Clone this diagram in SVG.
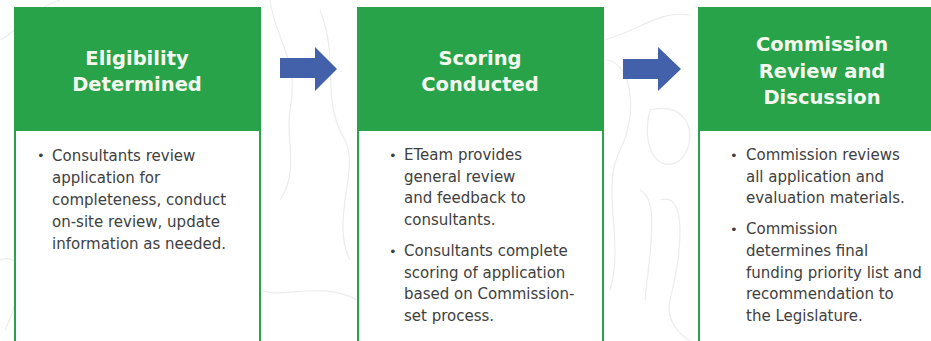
<svg xmlns="http://www.w3.org/2000/svg" width="931" height="341" viewBox="0 0 931 341">
<style>
.hdr{fill:#29a34a}
.body{fill:#ffffff;stroke:#29a34a;stroke-width:2}
.ttl{font-family:"DejaVu Sans",sans-serif;font-weight:bold;font-size:19.5px;fill:#f4f8ee;text-anchor:middle}
.txt{font-family:"DejaVu Sans",sans-serif;font-size:15px;fill:#404040}
.bul{font-family:"DejaVu Sans",sans-serif;font-size:13px;fill:#404040}
.arr{fill:#4361ab}
.topo{fill:none;stroke:#ececec;stroke-width:1.2}
</style>
<rect width="931" height="341" fill="#ffffff"/>
<g id="background">
<path class="topo" d="M0 40 C20 30 30 10 60 0"/>
<path class="topo" d="M0 260 C30 250 20 300 5 330"/>
<path class="topo" d="M270 0 C275 40 300 60 290 110 C285 140 300 170 280 200"/>
<path class="topo" d="M320 10 C340 60 320 100 345 140 C360 170 330 220 350 260"/>
<path class="topo" d="M262 290 C280 300 320 280 357 300"/>
<path class="topo" d="M605 40 C640 30 660 10 690 15"/>
<path class="topo" d="M605 60 C630 60 640 110 620 150 C600 190 625 240 610 290"/>
<path class="topo" d="M650 110 C690 100 700 140 680 160 C660 175 640 150 650 110 Z"/>
<path class="topo" d="M660 200 C690 190 680 260 670 300 C665 320 680 335 690 341"/>
<path class="topo" d="M640 190 C660 200 650 250 645 300"/>
</g>
<g id="node-eligibility">
<rect class="body" x="15" y="126" width="245" height="230"/>
<rect class="hdr" x="14" y="7" width="247" height="124"/>
<text class="ttl" x="137" y="65">Eligibility</text>
<text class="ttl" x="137" y="91">Determined</text>
<text class="bul" x="37" y="160">•</text>
<text class="txt" x="52" y="161">Consultants review</text>
<text class="txt" x="52" y="183">application for</text>
<text class="txt" x="52" y="205">completeness, conduct</text>
<text class="txt" x="52" y="227">on-site review, update</text>
<text class="txt" x="52" y="249">information as needed.</text>
</g>
<g id="node-scoring">
<rect class="body" x="358" y="126" width="245" height="230"/>
<rect class="hdr" x="357" y="7" width="247" height="124"/>
<text class="ttl" x="480" y="65">Scoring</text>
<text class="ttl" x="480" y="91">Conducted</text>
<text class="bul" x="389" y="160">•</text>
<text class="txt" x="404" y="160">ETeam provides</text>
<text class="txt" x="404" y="181.5">general review</text>
<text class="txt" x="404" y="203">and feedback to</text>
<text class="txt" x="404" y="224.5">consultants.</text>
<text class="bul" x="389" y="256">•</text>
<text class="txt" x="404" y="256">Consultants complete</text>
<text class="txt" x="404" y="277.5">scoring of application</text>
<text class="txt" x="404" y="299">based on Commission-</text>
<text class="txt" x="404" y="320.5">set process.</text>
</g>
<g id="node-commission">
<rect class="body" x="699" y="126" width="245" height="230"/>
<rect class="hdr" x="698" y="7" width="247" height="124"/>
<text class="ttl" x="822" y="51">Commission</text>
<text class="ttl" x="822" y="78">Review and</text>
<text class="ttl" x="822" y="104">Discussion</text>
<text class="bul" x="730" y="160">•</text>
<text class="txt" x="746" y="160">Commission reviews</text>
<text class="txt" x="746" y="181.5">all application and</text>
<text class="txt" x="746" y="203">evaluation materials.</text>
<text class="bul" x="730" y="234">•</text>
<text class="txt" x="746" y="234">Commission</text>
<text class="txt" x="746" y="256">determines final</text>
<text class="txt" x="746" y="277.5">funding priority list and</text>
<text class="txt" x="746" y="299">recommendation to</text>
<text class="txt" x="746" y="320.5">the Legislature.</text>
</g>
<g id="connectors">
<polygon class="arr" points="280,58 315,58 315,47 337,69 315,91 315,78 280,78"/>
<polygon class="arr" points="623,59 658,59 658,47 681,69 658,91 658,79 623,79"/>
</g>
</svg>
